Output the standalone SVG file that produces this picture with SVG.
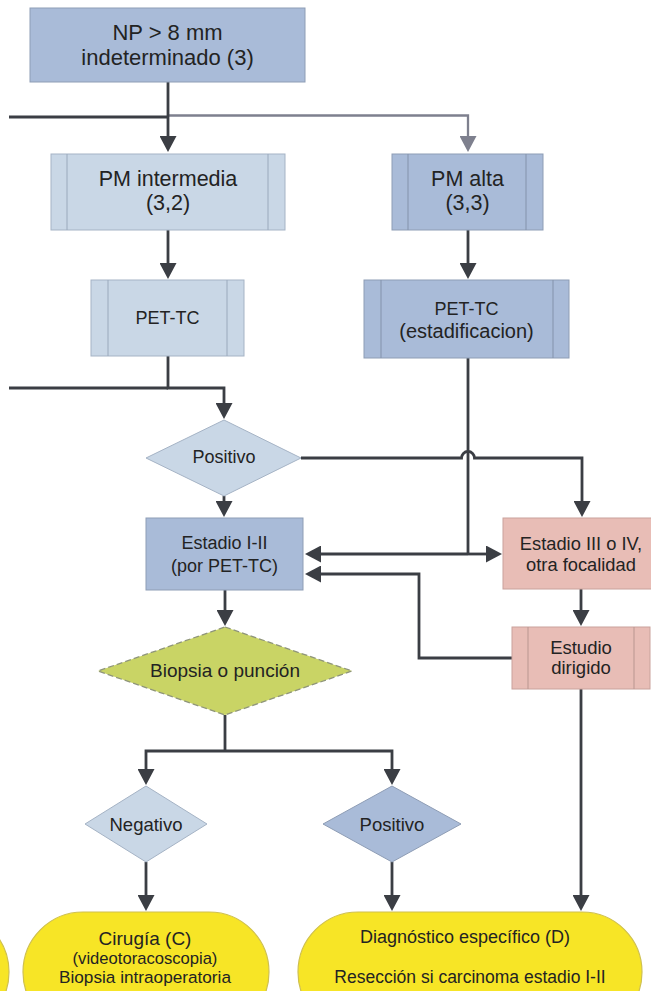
<svg xmlns="http://www.w3.org/2000/svg" width="651" height="991" viewBox="0 0 651 991">
  <style>
    text { font-family: "Liberation Sans", Arial, sans-serif; fill: #232323; text-anchor: middle; }
    .mid { fill: #a9bbd8; stroke: #8e9db5; stroke-width: 1; }
    .light { fill: #c9d7e6; stroke: #a5b3c5; stroke-width: 1; }
    .pink { fill: #e8bdb6; stroke: #c9a29c; stroke-width: 1; }
    .bar-mid { stroke: #8392ab; stroke-width: 1; }
    .bar-light { stroke: #9aa9bc; stroke-width: 1; }
    .bar-pink { stroke: #b99690; stroke-width: 1; }
    .green { fill: #c9d465; stroke: #8f957a; stroke-width: 1.3; stroke-dasharray: 6 3; }
    .term { fill: #f7e526; stroke: #cfc04f; stroke-width: 1.2; }
    .wire { fill: none; stroke: #3b3e44; stroke-width: 2.8; }
    .arrow { marker-end: url(#head); }
    .wire-gray { fill: none; stroke: #7e808e; stroke-width: 2.3; marker-end: url(#head-gray); }
  </style>
  <defs>
    <marker id="head" markerUnits="userSpaceOnUse" markerWidth="17" markerHeight="17" viewBox="0 0 16 17" refX="1" refY="8.5" orient="auto">
      <path d="M0,0 L16,8.5 L0,17 Z" fill="#3b3e44"/>
    </marker>
    <marker id="head-gray" markerUnits="userSpaceOnUse" markerWidth="17" markerHeight="17" viewBox="0 0 16 17" refX="1" refY="8.5" orient="auto">
      <path d="M0,0 L16,8.5 L0,17 Z" fill="#7e808e"/>
    </marker>
  </defs>

  <!-- connectors -->
  <g id="connectors">
    <path class="wire-gray" d="M168,115.5 H468 V137"/>
    <path class="wire" d="M9,117 H168"/>
    <path class="wire arrow" d="M168,82 V137"/>
    <path class="wire arrow" d="M168,230 V264"/>
    <path class="wire arrow" d="M468,230 V264"/>
    <path class="wire" d="M9,388 H168"/>
    <path class="wire arrow" d="M168,356 V388 H224 V404"/>
    <path class="wire arrow" d="M301,458 H461.5 A6.5,6.5 0 0 1 474.5,458 H582 V502"/>
    <path class="wire" d="M468,358 V554"/>
    <path class="wire arrow" d="M468,554 H320"/>
    <path class="wire arrow" d="M468,554 H487"/>
    <path class="wire arrow" d="M224,496 V502"/>
    <path class="wire arrow" d="M581,589 V611"/>
    <path class="wire arrow" d="M512,658 H419 V574 H320"/>
    <path class="wire arrow" d="M225,590 V611"/>
    <path class="wire" d="M225,715 V751"/>
    <path class="wire arrow" d="M225,751 H146 V770"/>
    <path class="wire arrow" d="M225,751 H392 V770"/>
    <path class="wire arrow" d="M146,862 V896"/>
    <path class="wire arrow" d="M392,862 V896"/>
    <path class="wire arrow" d="M581,689 V896"/>
  </g>

  <!-- nodes -->
  <g id="np-indeterminado">
    <rect class="mid" x="30" y="8" width="275" height="74"/>
    <text x="167.5" y="39.5" font-size="22">NP &gt; 8 mm</text>
    <text x="167.5" y="64.5" font-size="22">indeterminado (3)</text>
  </g>

  <g id="pm-intermedia">
    <rect class="light" x="51" y="154" width="234" height="76"/>
    <line class="bar-light" x1="67" y1="154" x2="67" y2="230"/>
    <line class="bar-light" x1="268" y1="154" x2="268" y2="230"/>
    <text x="168" y="185.5" font-size="21.5">PM intermedia</text>
    <text x="168" y="209.5" font-size="21.5">(3,2)</text>
  </g>

  <g id="pm-alta">
    <rect class="mid" x="392" y="154" width="151" height="76"/>
    <line class="bar-mid" x1="408" y1="154" x2="408" y2="230"/>
    <line class="bar-mid" x1="526" y1="154" x2="526" y2="230"/>
    <text x="467.5" y="185.5" font-size="21.5">PM alta</text>
    <text x="467.5" y="209.5" font-size="21.5">(3,3)</text>
  </g>

  <g id="pet-tc">
    <rect class="light" x="91" y="280" width="153" height="76"/>
    <line class="bar-light" x1="108" y1="280" x2="108" y2="356"/>
    <line class="bar-light" x1="227" y1="280" x2="227" y2="356"/>
    <text x="167.5" y="324" font-size="18">PET-TC</text>
  </g>

  <g id="pet-tc-estadificacion">
    <rect class="mid" x="364" y="280" width="205" height="78"/>
    <line class="bar-mid" x1="381" y1="280" x2="381" y2="358"/>
    <line class="bar-mid" x1="553" y1="280" x2="553" y2="358"/>
    <text x="466.5" y="315" font-size="18">PET-TC</text>
    <text x="466.5" y="338" font-size="20">(estadificacion)</text>
  </g>

  <g id="positivo-pet">
    <polygon class="light" points="224,420 301,458 224,496 146,458"/>
    <text x="224" y="463" font-size="18">Positivo</text>
  </g>

  <g id="estadio-i-ii">
    <rect class="mid" x="146" y="518" width="157" height="72"/>
    <text x="224.5" y="549" font-size="18">Estadio I-II</text>
    <text x="224.5" y="572" font-size="18">(por PET-TC)</text>
  </g>

  <g id="estadio-iii-iv">
    <rect class="pink" x="503" y="518" width="156" height="71"/>
    <text x="581" y="549.5" font-size="18.3">Estadio III o IV,</text>
    <text x="581" y="570.5" font-size="18.3">otra focalidad</text>
  </g>

  <g id="estudio-dirigido">
    <rect class="pink" x="512" y="627" width="138" height="62"/>
    <line class="bar-pink" x1="528" y1="627" x2="528" y2="689"/>
    <line class="bar-pink" x1="634" y1="627" x2="634" y2="689"/>
    <text x="581" y="653.5" font-size="18.5">Estudio</text>
    <text x="581" y="674" font-size="18.5">dirigido</text>
  </g>

  <g id="biopsia-puncion">
    <polygon class="green" points="225,627 352,671 225,715 98,671"/>
    <text x="225" y="677" font-size="19">Biopsia o punción</text>
  </g>

  <g id="negativo">
    <polygon class="light" points="146,786 207,824 146,862 85,824"/>
    <text x="146" y="831" font-size="18.5">Negativo</text>
  </g>

  <g id="positivo-biopsia">
    <polygon class="mid" points="392,786 461,824 392,862 323,824"/>
    <text x="392" y="831" font-size="18.5">Positivo</text>
  </g>

  <g id="terminal-previo">
    <rect class="term" x="-200" y="912" width="209" height="120" rx="60" ry="60"/>
  </g>

  <g id="cirugia">
    <rect class="term" x="23" y="912" width="246" height="120" rx="60" ry="60"/>
    <text x="145" y="945" font-size="19">Cirugía (C)</text>
    <text x="145" y="963.5" font-size="16.6">(videotoracoscopia)</text>
    <text x="145" y="982.5" font-size="17.2">Biopsia intraoperatoria</text>
  </g>

  <g id="diagnostico-especifico">
    <rect class="term" x="298" y="912" width="344" height="120" rx="60" ry="60"/>
    <text x="465" y="943" font-size="18">Diagnóstico específico (D)</text>
    <text x="470" y="983" font-size="17.5">Resección si carcinoma estadio I-II</text>
  </g>
</svg>
